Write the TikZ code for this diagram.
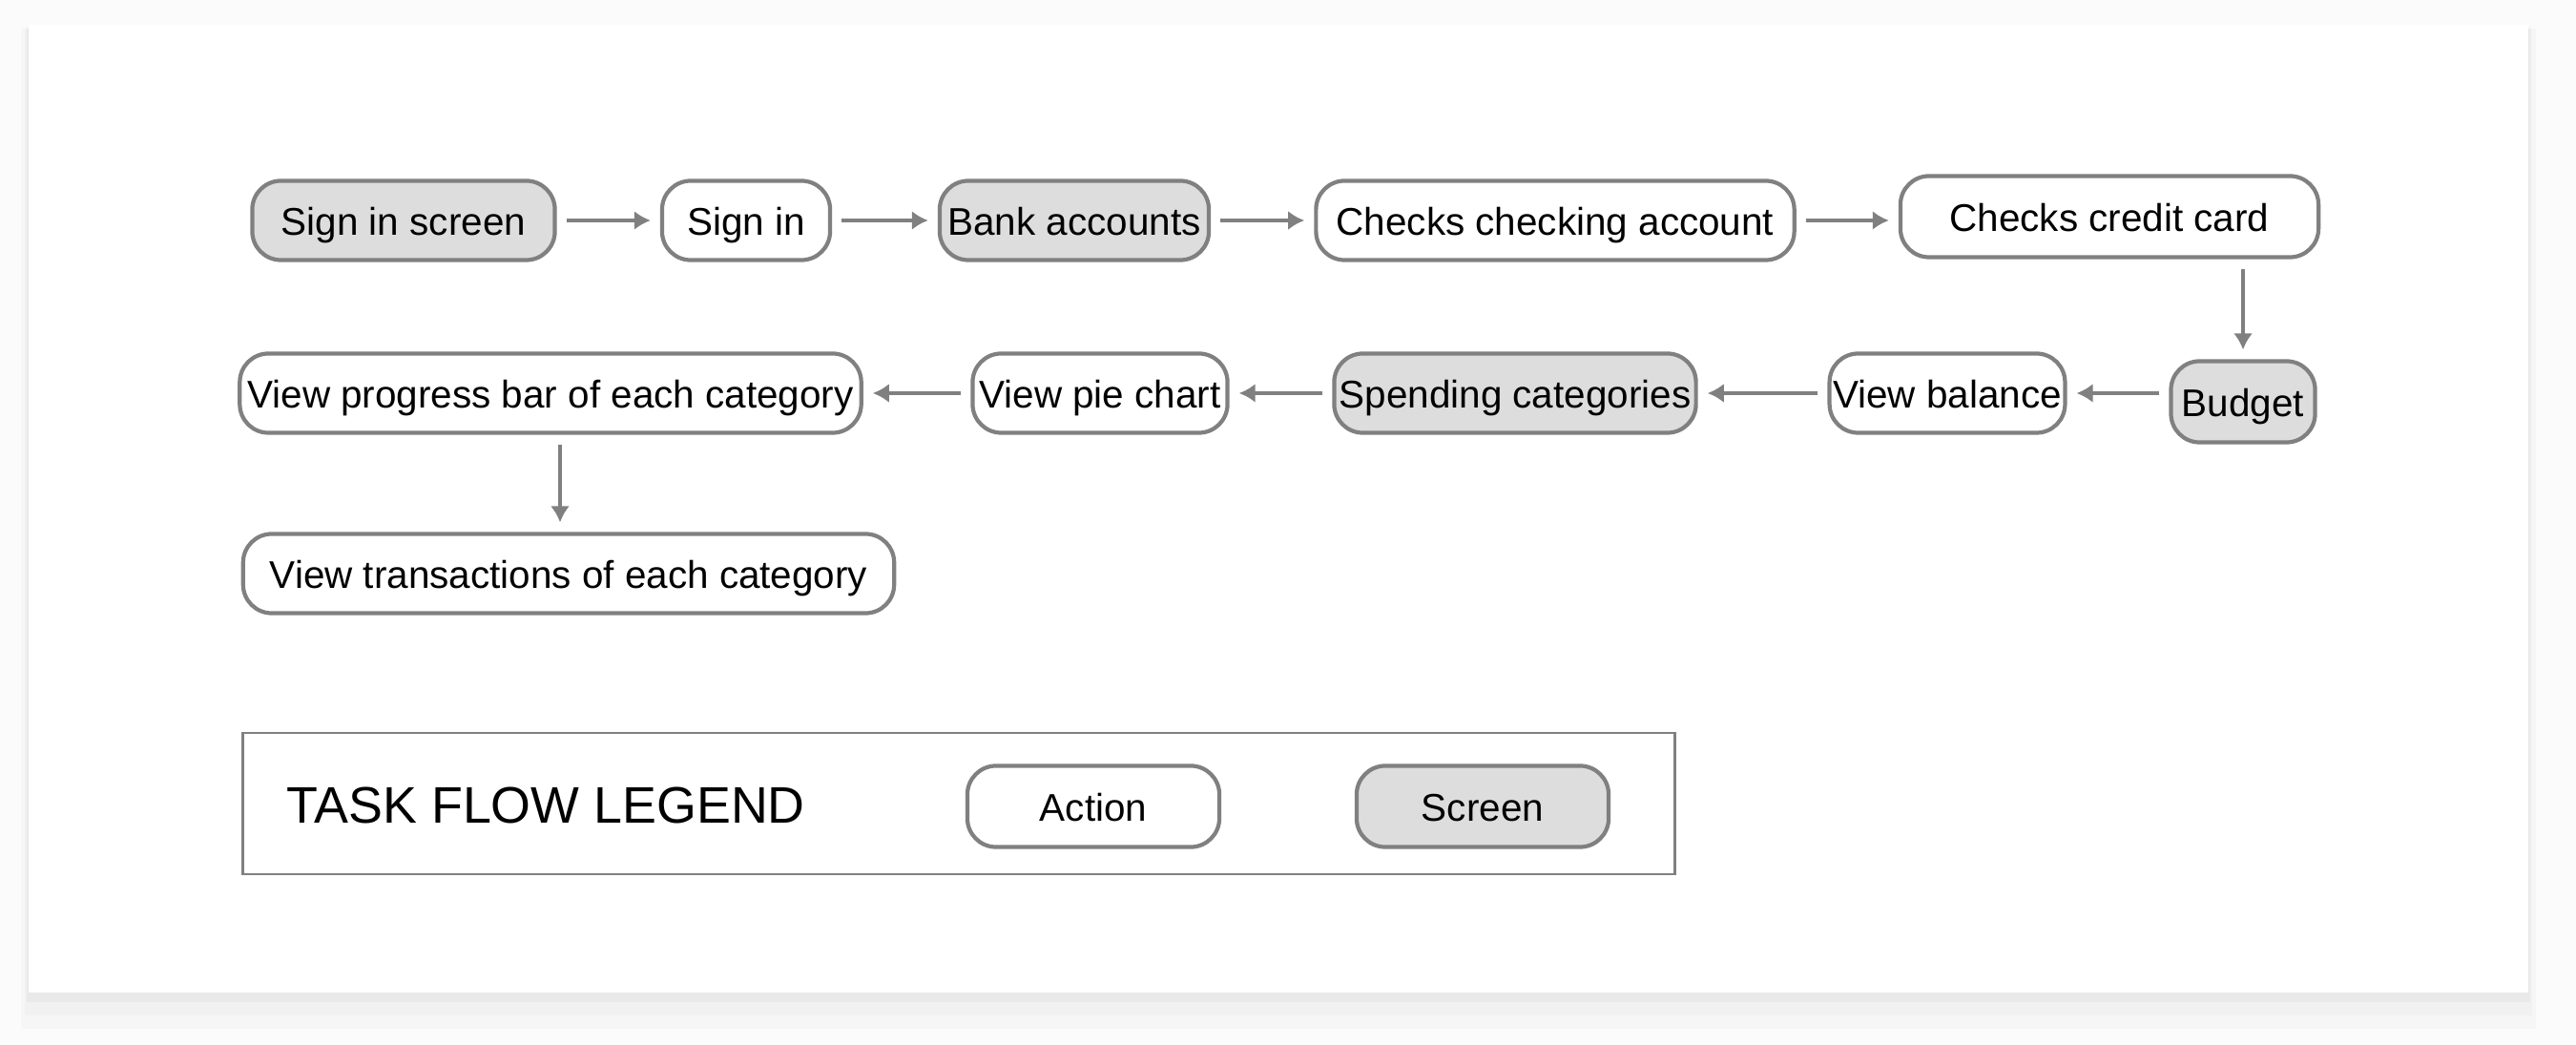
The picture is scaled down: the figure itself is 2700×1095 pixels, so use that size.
\documentclass[tikz,border=0pt]{standalone}
\usepackage{fontspec}
\setmainfont{Liberation Sans}
\usetikzlibrary{arrows.meta}
\definecolor{flowgray}{RGB}{128,128,128}
\definecolor{screenfill}{RGB}{221,221,221}
\tikzset{
  action/.style={rectangle, draw=flowgray, line width=1.2pt, rounded corners=0.3cm,
                 fill=white, minimum height=0.83cm, inner xsep=1pt, inner ysep=0pt,
                 text height=0.9em, text depth=0em,
                 font=\fontsize{11.5}{13}\selectfont, align=center},
  screen/.style={action, fill=screenfill},
  legendbox/.style={rectangle, draw=flowgray, line width=0.7pt},
  arrow/.style={-{Latex[length=1.7mm, width=2mm]}, draw=flowgray, line width=1.3pt,
                shorten <=1mm, shorten >=1mm}
}
\begin{document}
\begin{tikzpicture}[x=0.01cm, y=-0.01cm]

% Card and shadow
\useasboundingbox (0,0) rectangle (2700,1095);
\fill[gray!3] (0,0) rectangle (2700,1095);
\fill[black, opacity=0.02] (22,30) rectangle (2658,1078);
\fill[black, opacity=0.02] (26,30) rectangle (2654,1064);
\fill[black, opacity=0.03] (28,28) rectangle (2652,1050);
\fill[white] (30,26) rectangle (2650,1040);

% Row 1: sign in to credit card
\node[screen, minimum width=3.17cm] (SignScreen) at (423,231) {Sign in screen};
\node[action, minimum width=1.76cm] (SignIn) at (782,231) {Sign in};
\node[screen, minimum width=2.82cm] (Bank) at (1126,231) {Bank accounts};
\node[action, minimum width=5.01cm] (Checking) at (1630,231) {Checks checking account};
\node[action, minimum width=4.38cm, minimum height=0.85cm] (Credit) at (2211,227) {Checks credit card};

% Row 2: budget back to progress bar
\node[screen, minimum width=1.51cm, minimum height=0.85cm] (Budget) at (2351,421) {Budget};
\node[action, minimum width=2.45cm] (Balance) at (2041,412) {View balance};
\node[screen, minimum width=3.79cm] (Spending) at (1588,412) {Spending categories};
\node[action, minimum width=2.67cm] (PieChart) at (1153,412) {View pie chart};
\node[action, minimum width=6.51cm] (Progress) at (577,412) {View progress bar of each category};

% Row 3: transactions
\node[action, minimum width=6.82cm] (Transactions) at (596,601) {View transactions of each category};

% Legend
\node[legendbox, minimum width=15cm, minimum height=1.48cm] (Legend) at (1005,842) {};
\node[anchor=west, inner sep=0pt, font=\fontsize{15.3}{18}\selectfont] (LegendTitle) at (300,844) {TASK FLOW LEGEND};
\node[action, minimum width=2.64cm, minimum height=0.85cm] (LegAction) at (1146,845) {Action};
\node[screen, minimum width=2.64cm, minimum height=0.85cm] (LegScreen) at (1554,845) {Screen};

% --- Connections ---
% Row 1
\draw[arrow] (SignScreen) -- (SignIn);
\draw[arrow] (SignIn) -- (Bank);
\draw[arrow] (Bank) -- (Checking);
\draw[arrow] (Checking.east) -- (Checking.east -| Credit.west);

% Credit card -> Budget
\draw[arrow, line width=0.9pt] (Budget |- Credit.south) -- (Budget.north);

% Row 2
\draw[arrow] (Budget.west |- Balance) -- (Balance.east);
\draw[arrow] (Balance) -- (Spending);
\draw[arrow] (Spending) -- (PieChart);
\draw[arrow] (PieChart) -- (Progress);

% Progress -> Transactions
\draw[arrow, line width=0.9pt] ([xshift=0.1cm]Progress.south) -- ([xshift=0.1cm]Progress.south |- Transactions.north);

\end{tikzpicture}
\end{document}
